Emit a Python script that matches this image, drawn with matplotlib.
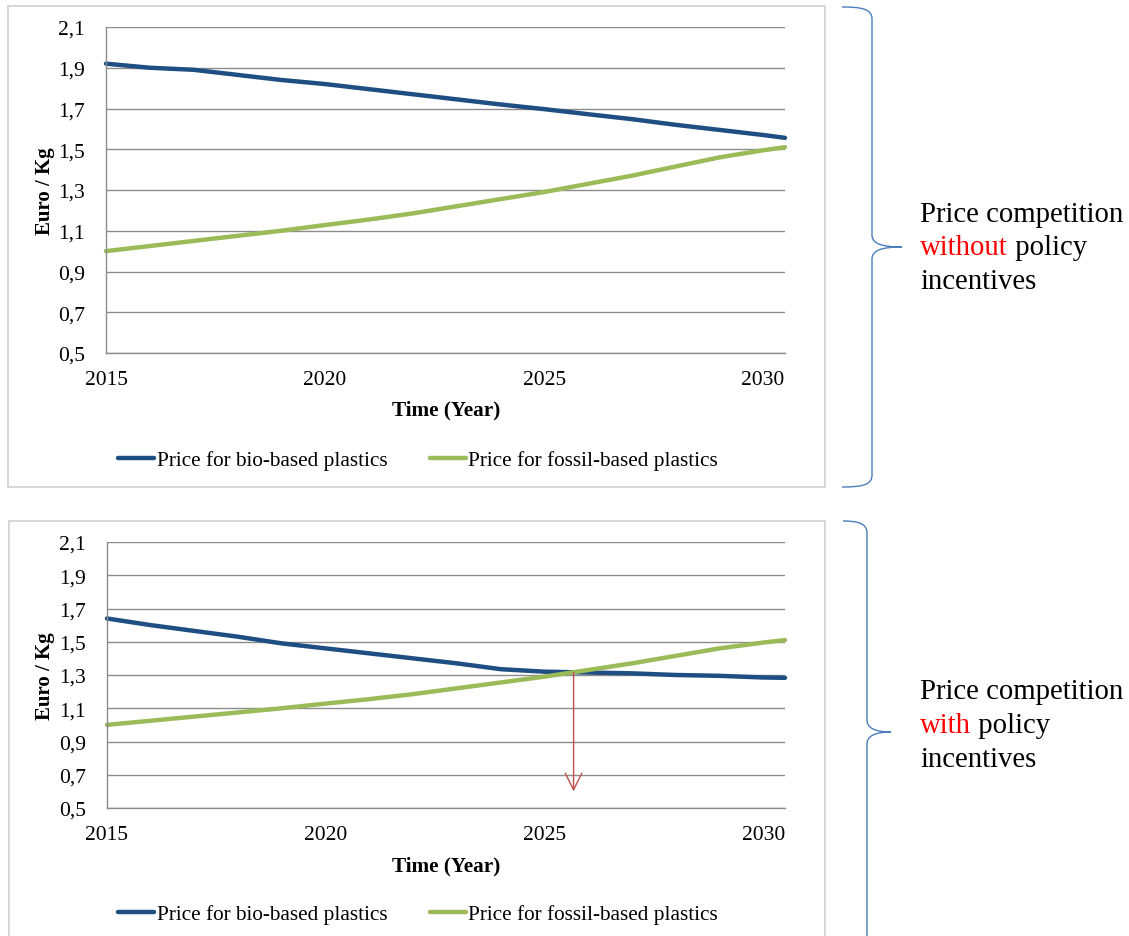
import numpy as np
import matplotlib
matplotlib.use("Agg")
import matplotlib.pyplot as plt
from matplotlib.patches import Rectangle, PathPatch
from matplotlib.path import Path

plt.rcParams['font.family'] = ['Liberation Serif', 'DejaVu Serif']

# ---------------- data ----------------
years = [2015, 2016, 2017, 2018, 2019, 2020, 2021, 2022, 2023, 2024,
         2025, 2026, 2027, 2028, 2029, 2030, 2030.5]

bio_without = [1.92, 1.90, 1.89, 1.865, 1.84, 1.82, 1.795, 1.77, 1.745, 1.72,
               1.697, 1.672, 1.648, 1.62, 1.595, 1.57, 1.556]
fossil_without = [1.00, 1.025, 1.05, 1.075, 1.10, 1.128, 1.155, 1.185, 1.22, 1.255,
                  1.29, 1.33, 1.37, 1.415, 1.46, 1.495, 1.51]

bio_with = [1.64, 1.60, 1.565, 1.53, 1.49, 1.46, 1.43, 1.40, 1.37, 1.335,
            1.32, 1.315, 1.31, 1.30, 1.295, 1.285, 1.283]
fossil_with = [1.00, 1.025, 1.05, 1.075, 1.10, 1.128, 1.155, 1.185, 1.22, 1.255,
               1.29, 1.33, 1.37, 1.415, 1.46, 1.495, 1.51]

y_ticks = [0.5, 0.7, 0.9, 1.1, 1.3, 1.5, 1.7, 1.9, 2.1]
y_tick_labels = ['0,5', '0,7', '0,9', '1,1', '1,3', '1,5', '1,7', '1,9', '2,1']
x_ticks = [2015, 2020, 2025, 2030]
x_tick_labels = ['2015', '2020', '2025', '2030']
arrow_end_value = 0.6

series_labels = ['Price for bio-based plastics', 'Price for fossil-based plastics']
x_label = 'Time (Year)'
y_label = 'Euro / Kg'

BIO_C = '#1f4e82'
FOS_C = '#9bbb59'
GRID_C = '#8c8c8c'

W, H = 1129, 937
fig = plt.figure(figsize=(W / 100, H / 100), dpi=100)


def fx(px):
    return px / W


def fy(py):
    return 1 - py / H


def make_axes(left, top, right, bottom):
    return fig.add_axes([fx(left), fy(bottom), fx(right - left), (bottom - top) / H])


def style_axes(ax):
    ax.set_xlim(2015, 2030.5)
    ax.set_ylim(0.5, 2.1)
    ax.set_yticks(y_ticks)
    ax.set_yticklabels(y_tick_labels)
    ax.set_xticks(x_ticks)
    ax.set_xticklabels(x_tick_labels)
    ax.tick_params(axis='both', length=0, labelsize=15.5)
    ax.tick_params(axis='y', pad=15)
    ax.tick_params(axis='x', pad=12)
    ax.grid(axis='y', color=GRID_C, lw=1.0)
    ax.set_axisbelow(True)
    for s in ['top', 'right']:
        ax.spines[s].set_visible(False)
    for s in ['left', 'bottom']:
        ax.spines[s].set_color(GRID_C)
        ax.spines[s].set_linewidth(1.0)


def box(left, top, right, bottom):
    fig.patches.append(Rectangle((fx(left), fy(bottom)), fx(right - left), (bottom - top) / H,
                                 transform=fig.transFigure, fill=False,
                                 edgecolor='#d4d4d4', lw=1.3))


# boxes
box(8, 7, 825, 488)
box(9, 522, 825, 960)

LEG_KW = dict(loc='center', ncol=2, frameon=False, fontsize=15.3, handlelength=1.7,
              handletextpad=0.1, columnspacing=2.0)

# top chart
ax1 = make_axes(106, 28, 785, 354)
style_axes(ax1)
l1, = ax1.plot(years, bio_without, color=BIO_C, lw=3.2, solid_capstyle='round', clip_on=False)
l2, = ax1.plot(years, fossil_without, color=FOS_C, lw=3.2, solid_capstyle='round', clip_on=False)
fig.text(fx(446), fy(410), x_label, ha='center', va='center', fontsize=15.3, fontweight='bold')
fig.text(fx(45), fy(191), y_label, ha='center', va='center', rotation=90, fontsize=15, fontweight='bold')
fig.legend([l1, l2], series_labels, bbox_to_anchor=(fx(418), fy(461)), **LEG_KW)

# bottom chart
ax2 = make_axes(107, 543, 785, 809)
style_axes(ax2)
l3, = ax2.plot(years, bio_with, color=BIO_C, lw=3.2, solid_capstyle='round', clip_on=False)
l4, = ax2.plot(years, fossil_with, color=FOS_C, lw=3.2, solid_capstyle='round', clip_on=False)
fig.text(fx(446), fy(866), x_label, ha='center', va='center', fontsize=15.3, fontweight='bold')
fig.text(fx(45), fy(676), y_label, ha='center', va='center', rotation=90, fontsize=15, fontweight='bold')
fig.legend([l3, l4], series_labels, bbox_to_anchor=(fx(418), fy(915)), **LEG_KW)

# crossing point from the data
diff = np.array(bio_with) - np.array(fossil_with)
yr = np.array(years, dtype=float)
i = np.where(np.sign(diff[:-1]) != np.sign(diff[1:]))[0][0]
t = diff[i] / (diff[i] - diff[i + 1])
x_cross = yr[i] + t * (yr[i + 1] - yr[i])
y_cross = fossil_with[i] + t * (fossil_with[i + 1] - fossil_with[i])
ax2.annotate('', xy=(x_cross, arrow_end_value), xytext=(x_cross, y_cross),
             arrowprops=dict(arrowstyle='->,head_length=0.6,head_width=0.3', color='#c0504d',
                             lw=1.0, mutation_scale=20, shrinkA=0, shrinkB=0))


# braces
def brace(x, top, tip_y, bottom, tip_x, start_x):
    verts = [(start_x, top), (x - 10, top), (x, top + 2), (x, top + 12),
             (x, tip_y - 12),
             (x, tip_y - 4), (x + 8, tip_y), (tip_x, tip_y),
             (x + 8, tip_y), (x, tip_y + 4), (x, tip_y + 12),
             (x, bottom - 12),
             (x, bottom - 2), (x - 10, bottom), (start_x, bottom)]
    codes = [Path.MOVETO, Path.CURVE4, Path.CURVE4, Path.CURVE4,
             Path.LINETO,
             Path.CURVE4, Path.CURVE4, Path.CURVE4,
             Path.CURVE4, Path.CURVE4, Path.CURVE4,
             Path.LINETO,
             Path.CURVE4, Path.CURVE4, Path.CURVE4]
    verts = [(fx(a), fy(b)) for a, b in verts]
    fig.patches.append(PathPatch(Path(verts, codes), transform=fig.transFigure,
                                 fill=False, edgecolor='#4a7ebb', lw=1.0))


brace(872, 8, 248, 488, 902, 842)
brace(867, 522, 733, 980, 891, 843)


# side texts
def side_text(y1, word, step):
    fs = 20.7
    fig.text(fx(920), fy(y1), 'Price competition', fontsize=fs, va='center', ha='left')
    tw = fig.text(fx(920), fy(y1 + step), word, fontsize=fs, va='center', ha='left', color='#ff0000')
    fig.add_artist(matplotlib.text.Annotation(' policy', xy=(1, 0), xycoords=tw, fontsize=fs,
                                              va='bottom', ha='left', annotation_clip=False))
    fig.text(fx(920), fy(y1 + 2 * step), 'incentives', fontsize=fs, va='center', ha='left')


side_text(215, 'without', 33.5)
side_text(692, 'with', 34)

fig.savefig('out.png', dpi=100)
